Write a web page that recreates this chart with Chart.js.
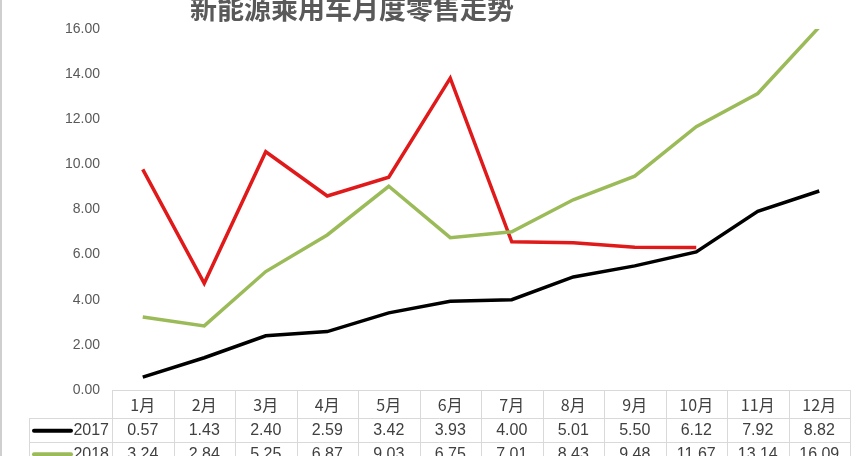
<!DOCTYPE html>
<html>
<head>
<meta charset="utf-8">
<script src="https://cdn.jsdelivr.net/npm/chart.js@4"></script>
<style>
  html, body { margin: 0; padding: 0; background: #fff; overflow: hidden; }
  #wrap { width: 864px; height: 456px; position: relative; }
</style>
</head>
<body>
<div id="wrap"><canvas id="chart" width="864" height="456"></canvas></div>
<script>
// 新能源乘用车月度零售走势 – dados
const titulo = "新能源乘用车月度零售走势";
const meses = ["1月", "2月", "3月", "4月", "5月", "6月", "7月", "8月", "9月", "10月", "11月", "12月"];
const nomesSeries = ["2017", "2018", "2019"];
const vendas2017 = [0.57, 1.43, 2.40, 2.59, 3.42, 3.93, 4.00, 5.01, 5.50, 6.12, 7.92, 8.82];
const vendas2018 = [3.24, 2.84, 5.25, 6.87, 9.03, 6.75, 7.01, 8.43, 9.48, 11.67, 13.14, 16.09];
const vendas2019 = [9.78, 4.73, 10.56, 8.60, 9.43, 13.82, 6.57, 6.53, 6.33, 6.32, null, null];
const coresSeries = ["#000000", "#9bbb59", "#e01a1a"];

const corTexto = "#404040";
const corGrelha = "#d9d9d9";

function fmt(v) {
  return v == null ? "" : v.toFixed(2);
}

// desenha o título e a tabela de dados por baixo do eixo
const tabelaPlugin = {
  id: "tabela",
  afterDraw(chart) {
    const ctx = chart.ctx;
    const xs = chart.scales.x;
    const area = chart.chartArea;
    const n = meses.length;
    const larg = (area.right - area.left) / n;
    const topo = area.bottom;
    const altCab = 28;
    const altLinha = 23.5;
    const esq = 29;

    ctx.save();

    // borda esquerda da imagem
    ctx.strokeStyle = "#cfcfcf";
    ctx.lineWidth = 2;
    ctx.beginPath();
    ctx.moveTo(1, 0);
    ctx.lineTo(1, 456);
    ctx.stroke();

    // título
    ctx.fillStyle = "#595959";
    ctx.font = "bold 27px 'Noto Sans CJK SC', sans-serif";
    ctx.textAlign = "center";
    ctx.textBaseline = "middle";
    ctx.fillText(titulo, 352, 9);

    // grelha
    ctx.strokeStyle = corGrelha;
    ctx.lineWidth = 1;
    const fundo = topo + altCab + altLinha * nomesSeries.length;
    ctx.beginPath();
    // linhas horizontais
    ctx.moveTo(area.left, topo + 0.5);
    ctx.lineTo(area.right, topo + 0.5);
    for (let r = 0; r <= nomesSeries.length; r++) {
      const y = Math.round(topo + altCab + altLinha * r) + 0.5;
      ctx.moveTo(esq, y);
      ctx.lineTo(area.right, y);
    }
    // linhas verticais
    for (let i = 0; i <= n; i++) {
      const x = Math.round(area.left + larg * i) + 0.5;
      ctx.moveTo(x, topo);
      ctx.lineTo(x, fundo);
    }
    ctx.moveTo(esq + 0.5, topo + altCab);
    ctx.lineTo(esq + 0.5, fundo);
    ctx.stroke();

    // cabeçalho dos meses
    ctx.fillStyle = corTexto;
    ctx.font = "16px 'Noto Sans CJK SC', sans-serif";
    ctx.textAlign = "center";
    ctx.textBaseline = "middle";
    meses.forEach((m, i) => {
      ctx.fillText(m, xs.getPixelForValue(i), topo + altCab / 2 + 1);
    });

    // linhas de dados
    const dados = [vendas2017, vendas2018, vendas2019];
    ctx.font = "16px 'Liberation Sans', sans-serif";
    dados.forEach((serie, r) => {
      const yc = topo + altCab + altLinha * r + altLinha / 2 + 1;
      // amostra da linha
      ctx.strokeStyle = coresSeries[r];
      ctx.lineWidth = 4;
      ctx.lineCap = "round";
      ctx.beginPath();
      ctx.moveTo(esq + 5, yc);
      ctx.lineTo(esq + 42, yc);
      ctx.stroke();
      ctx.fillStyle = corTexto;
      ctx.textAlign = "right";
      ctx.fillText(nomesSeries[r], area.left - 3, yc);
      ctx.textAlign = "center";
      serie.forEach((v, i) => {
        ctx.fillText(fmt(v), xs.getPixelForValue(i), yc);
      });
    });

    ctx.restore();
  }
};

const ctx = document.getElementById("chart").getContext("2d");

new Chart(ctx, {
  type: "line",
  data: {
    labels: meses,
    datasets: [
      { label: nomesSeries[0], data: vendas2017, borderColor: coresSeries[0] },
      { label: nomesSeries[1], data: vendas2018, borderColor: coresSeries[1] },
      { label: nomesSeries[2], data: vendas2019, borderColor: coresSeries[2] },
    ].map(d => ({
      ...d,
      borderWidth: 3.5,
      pointRadius: 0,
      tension: 0,
      fill: false,
      borderJoinStyle: "miter",
    })),
  },
  options: {
    responsive: false,
    animation: false,
    layout: { padding: { left: 0, right: 14, top: 29, bottom: 66 } },
    plugins: {
      legend: { display: false },
      title: { display: false },
      tooltip: { enabled: false },
    },
    scales: {
      x: {
        display: false,
        offset: true,
      },
      y: {
        min: 0,
        max: 16,
        afterFit(scale) { scale.width = 112; },
        border: { display: false },
        grid: { display: false, drawTicks: false },
        ticks: {
          stepSize: 2,
          padding: 12,
          color: "#595959",
          font: { family: "'Liberation Sans', sans-serif", size: 14 },
          callback: v => v.toFixed(2),
        },
      },
    },
  },
  plugins: [tabelaPlugin],
});
</script>
</body>
</html>
